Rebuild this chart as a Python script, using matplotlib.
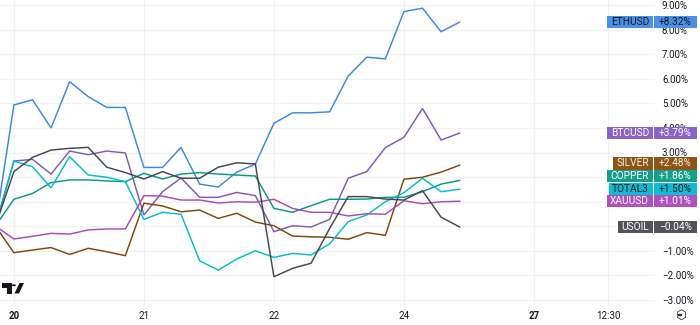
import matplotlib
matplotlib.use("Agg")
import matplotlib.pyplot as plt
import matplotlib.transforms as mtransforms
from matplotlib.patches import Rectangle, Polygon, Circle

plt.rcParams['font.family'] = ['Roboto', 'DejaVu Sans']

# percent change vs. first visible bar, one point per bar
eth = [0, 4.94, 5.15, 4.00, 5.89, 5.28, 4.84, 4.84, 2.39, 2.39, 3.21, 1.71, 1.59, 2.20,
       2.53, 4.19, 4.62, 4.62, 4.66, 6.12, 6.89, 6.82, 8.75, 8.89, 7.93, 8.32]
btc = [0, 2.65, 2.72, 2.12, 3.06, 2.91, 3.06, 2.98, 0.45, 1.40, 1.96, 1.17, 1.17, 1.37,
       1.24, -0.23, 0.01, -0.04, 0.27, 1.95, 2.22, 3.20, 3.62, 4.80, 3.51, 3.79]
silver = [0, -1.09, -0.98, -0.88, -1.16, -0.91, -1.05, -1.21, 0.93, 0.82, 0.58, 0.65, 0.31, 0.52,
          0.16, 0.01, -0.41, -0.44, -0.46, -0.54, -0.27, -0.38, 1.91, 1.99, 2.20, 2.48]
copper = [0, 1.09, 1.33, 1.77, 1.88, 1.88, 1.84, 1.81, 2.15, 1.92, 2.12, 2.18, 2.12, 2.08,
          2.04, 0.72, 0.56, 0.83, 1.09, 1.09, 1.10, 1.17, 1.17, 1.40, 1.71, 1.86]
total3 = [0, 2.65, 2.42, 1.56, 2.83, 2.08, 1.99, 1.81, 0.27, 0.56, 0.48, -1.42, -1.80, -1.35,
          -1.01, -1.28, -1.12, -1.18, -0.73, 0.18, 0.45, 0.99, 1.36, 1.95, 1.40, 1.50]
xauusd = [0, -0.53, -0.42, -0.30, -0.33, -0.16, -0.12, -0.12, 1.24, 1.22, 1.06, 1.06, 0.94, 0.99,
          0.97, 1.09, 0.72, 0.56, 0.56, 0.41, 0.50, 0.48, 1.03, 0.91, 0.99, 1.01]
usoil = [0, 2.22, 2.80, 3.10, 3.17, 3.21, 2.40, 2.18, 1.92, 2.22, 1.95, 1.95, 2.40, 2.58,
         2.53, -2.07, -1.73, -1.52, -0.10, 1.20, 1.20, 1.10, 1.06, 1.44, 0.36, -0.04]

names = ['ETHUSD', 'BTCUSD', 'SILVER', 'COPPER', 'TOTAL3', 'XAUUSD', 'USOIL']
series = [eth, btc, silver, copper, total3, xauusd, usoil]
line_colors = ['#3A87E8', '#7E57C2', '#7F4608', '#089981', '#00BCD4', '#AB47BC', '#434651']
box_colors = ['#4A90E6', '#8A63C8', '#8D5418', '#16A08A', '#10BCD2', '#B050C0', '#515359']
text_colors = ['#131722', 'white', '#FBEBD8', 'white', '#131722', 'white', 'white']

tick_pos = [1, 8, 15, 22, 29, 33]
tick_labels = ['20', '21', '22', '24', '27', '12:30']
bold_ticks = ['20', '27']
y_ticks = list(range(-3, 10))

W, H = 700, 325
px_per_pct = 24.5
fig = plt.figure(figsize=(7, 3.25), dpi=100)
ax = fig.add_axes([0, 20 / H, 655 / W, 305 / H])

x = list(range(len(eth)))
for s, c in zip(series, line_colors):
    ax.plot(x, s, color=c, lw=1.05, solid_joinstyle='miter')

ax.set_xlim(0.25, 35.52)
ax.set_ylim(-3.224, 9.224)
for sp in ax.spines.values():
    sp.set_visible(False)

# price-scale labels, pushed apart so they do not overlap
gap = 12.6 / px_per_pct
order = sorted(range(len(series)), key=lambda k: series[k][-1])
label_y = {}
prev = None
for k in order:
    yv = series[k][-1]
    if prev is not None and yv < prev + gap:
        yv = prev + gap
    label_y[k] = yv
    prev = yv

ax.set_yticks(y_ticks)
ax.set_yticklabels([f'{v:.2f}%'.replace('-', '\u2212') for v in y_ticks])
ax.yaxis.tick_right()
ax.tick_params(axis='y', length=0, pad=5, labelsize=7, labelcolor='#131722')
# tick labels sitting right under a series label are covered by it
for v, lab in zip(y_ticks, ax.get_yticklabels()):
    if any(abs(v - yl) * px_per_pct < 5 for yl in label_y.values()):
        lab.set_visible(False)

ax.set_xticks(tick_pos)
ax.set_xticklabels(tick_labels)
ax.tick_params(axis='x', length=0, pad=4, labelsize=7, labelcolor='#131722')
for lab in ax.get_xticklabels():
    if lab.get_text() in bold_ticks:
        lab.set_fontweight('bold')
ax.grid(color='#F0F2F5', lw=0.8)
ax.set_axisbelow(True)

trans = mtransforms.blended_transform_factory(fig.transFigure, ax.transData)
box_h = 12.3 / px_per_pct
name_texts = []
for k, name in enumerate(names):
    yv = label_y[k]
    val = series[k][-1]
    vs = f'{val:+.2f}%'.replace('-', '\u2212')
    t = ax.text(649 / W, yv, name, transform=trans, ha='right', va='center',
                fontsize=7.3, color=text_colors[k], zorder=6, clip_on=False)
    name_texts.append((t, k, yv))
    ax.add_patch(Rectangle((654 / W, yv - box_h / 2), 43 / W, box_h, transform=trans,
                           fc=box_colors[k], ec='none', zorder=5, clip_on=False))
    ax.text(675.5 / W, yv, vs, transform=trans, ha='center', va='center',
            fontsize=7.3, color=text_colors[k], zorder=6, clip_on=False)

fig.canvas.draw()
r = fig.canvas.get_renderer()
for t, k, yv in name_texts:
    bb = t.get_window_extent(r)
    x0 = bb.x0 - 3.5
    ax.add_patch(Rectangle((x0 / W, yv - box_h / 2), (652.5 - x0) / W, box_h, transform=trans,
                           fc=box_colors[k], ec='none', zorder=5, clip_on=False))

# TradingView logo, bottom left
def px(pts):
    return [(a / W, (H - b) / H) for a, b in pts]

fig.patches.append(Polygon(px([(2, 283), (11.5, 283), (11.5, 293.5), (7, 293.5), (7, 287.5), (2, 287.5)]),
                           closed=True, transform=fig.transFigure, fc='#131722', ec='none'))
fig.patches.append(Circle((13.8 / W, (H - 285.3) / H), 2.1 / W, transform=fig.transFigure,
                          fc='#131722', ec='none'))
fig.patches.append(Polygon(px([(14.5, 293.5), (19, 293.5), (24, 283), (19.5, 283)]),
                           closed=True, transform=fig.transFigure, fc='#131722', ec='none'))

# settings icon, bottom right
fig.text(680 / W, (H - 315) / H, '\u2b21', fontsize=9, ha='center', va='center',
         color='#131722', family=['DejaVu Sans'])
fig.patches.append(Circle((680 / W, (H - 315) / H), 1.6 / W, transform=fig.transFigure,
                          fc='none', ec='#131722', lw=0.8))

fig.savefig('out.png', dpi=100, facecolor='white')
